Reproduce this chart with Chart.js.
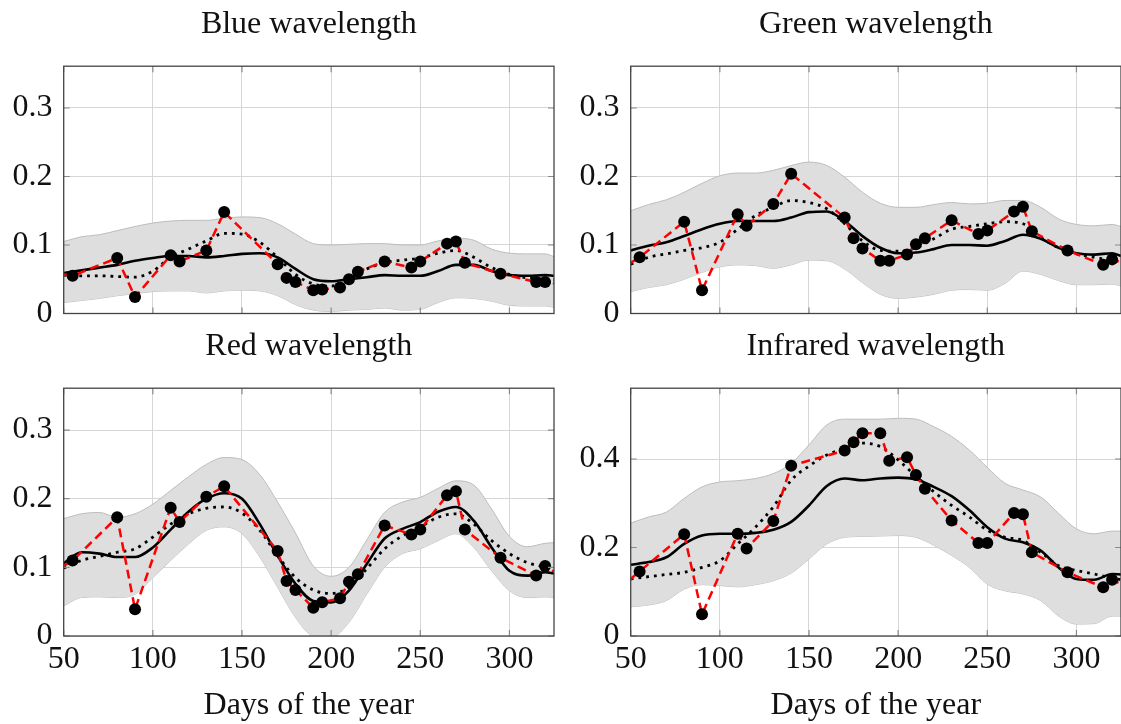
<!DOCTYPE html>
<html>
<head>
<meta charset="utf-8">
<script src="https://cdn.jsdelivr.net/npm/chart.js@4.4.0/dist/chart.umd.min.js"></script>
<style>
	html, body { margin: 0; padding: 0; background: #fff; }
	body { position: relative; width: 1121px; height: 724px; overflow: hidden; }
	canvas { position: absolute; }
</style>
</head>
<body>
<canvas id="chart-blue" width="560" height="346" style="left:0px;top:0px"></canvas>
<canvas id="chart-green" width="560" height="346" style="left:567px;top:0px"></canvas>
<canvas id="chart-red" width="560" height="402" style="left:0px;top:322px"></canvas>
<canvas id="chart-ir" width="560" height="402" style="left:567px;top:322px"></canvas>
<script>

//==========
// Data

// days with an observation (dots + red dashed line)
const obsDays = [55, 80, 90, 110, 115, 130, 140, 170, 175, 180, 190, 195, 205, 210, 215, 230, 245, 250, 265, 270, 275, 295, 315, 320];
// red dashed line also runs out to the plot edges
const edgeDays = [50, 325];
// days where the smooth curves were read
const curveDays = [50, 60, 70, 80, 90, 100, 110, 120, 130, 140, 150, 160, 170, 180, 190, 200, 210, 220, 230, 240, 250, 260, 270, 280, 290, 300, 310, 320, 325];

const blueObs   = [0.055, 0.081, 0.024, 0.085, 0.076, 0.092, 0.148, 0.072, 0.052, 0.046, 0.034, 0.035, 0.038, 0.050, 0.061, 0.076, 0.067, 0.076, 0.102, 0.105, 0.074, 0.058, 0.046, 0.046];
const blueEnds  = [0.057, 0.044];
const blueFit   = [0.059, 0.063, 0.067, 0.071, 0.077, 0.081, 0.084, 0.084, 0.082, 0.084, 0.087, 0.088, 0.082, 0.065, 0.050, 0.047, 0.050, 0.053, 0.056, 0.055, 0.055, 0.062, 0.071, 0.071, 0.062, 0.056, 0.055, 0.056, 0.055];
const blueTrend = [0.056, 0.055, 0.055, 0.054, 0.053, 0.062, 0.082, 0.094, 0.106, 0.117, 0.116, 0.104, 0.082, 0.057, 0.043, 0.040, 0.050, 0.065, 0.074, 0.078, 0.081, 0.088, 0.092, 0.082, 0.067, 0.057, 0.052, 0.050, 0.049];
const blueHigh  = [0.105, 0.112, 0.115, 0.121, 0.127, 0.132, 0.135, 0.136, 0.136, 0.139, 0.141, 0.140, 0.131, 0.116, 0.102, 0.100, 0.101, 0.102, 0.102, 0.100, 0.100, 0.106, 0.110, 0.107, 0.094, 0.088, 0.087, 0.087, 0.083];
const blueLow   = [0.016, 0.019, 0.022, 0.026, 0.029, 0.032, 0.033, 0.033, 0.030, 0.033, 0.034, 0.033, 0.026, 0.013, 0.005, 0.003, 0.005, 0.006, 0.008, 0.005, 0.006, 0.016, 0.023, 0.022, 0.018, 0.012, 0.011, 0.011, 0.009];

const greenObs   = [0.082, 0.134, 0.034, 0.145, 0.128, 0.160, 0.204, 0.140, 0.110, 0.095, 0.077, 0.077, 0.086, 0.101, 0.110, 0.136, 0.116, 0.121, 0.149, 0.156, 0.120, 0.092, 0.071, 0.079];
const greenEnds  = [0.074, 0.075];
const greenFit   = [0.092, 0.099, 0.104, 0.113, 0.123, 0.131, 0.135, 0.135, 0.135, 0.140, 0.148, 0.149, 0.135, 0.113, 0.096, 0.088, 0.089, 0.094, 0.100, 0.100, 0.099, 0.106, 0.115, 0.109, 0.096, 0.088, 0.086, 0.088, 0.084];
const greenTrend = [0.072, 0.082, 0.087, 0.092, 0.096, 0.104, 0.123, 0.143, 0.155, 0.165, 0.162, 0.153, 0.131, 0.106, 0.092, 0.091, 0.096, 0.109, 0.123, 0.127, 0.131, 0.134, 0.131, 0.111, 0.096, 0.087, 0.082, 0.077, 0.074];
const greenHigh  = [0.150, 0.159, 0.166, 0.177, 0.190, 0.201, 0.205, 0.205, 0.209, 0.216, 0.221, 0.216, 0.199, 0.177, 0.161, 0.155, 0.155, 0.159, 0.162, 0.160, 0.161, 0.165, 0.165, 0.155, 0.138, 0.130, 0.128, 0.130, 0.127];
const greenLow   = [0.032, 0.038, 0.042, 0.050, 0.060, 0.068, 0.071, 0.070, 0.066, 0.071, 0.078, 0.077, 0.065, 0.045, 0.028, 0.022, 0.024, 0.028, 0.034, 0.035, 0.034, 0.044, 0.062, 0.057, 0.048, 0.042, 0.042, 0.043, 0.040];

const redObs   = [0.110, 0.173, 0.039, 0.187, 0.166, 0.203, 0.218, 0.124, 0.080, 0.067, 0.041, 0.049, 0.055, 0.079, 0.090, 0.161, 0.148, 0.155, 0.205, 0.211, 0.155, 0.114, 0.088, 0.102];
const redEnds  = [0.102, 0.094];
const redFit   = [0.106, 0.122, 0.120, 0.115, 0.115, 0.129, 0.155, 0.181, 0.200, 0.208, 0.200, 0.163, 0.117, 0.076, 0.051, 0.049, 0.066, 0.105, 0.142, 0.156, 0.166, 0.181, 0.188, 0.168, 0.129, 0.095, 0.088, 0.093, 0.091];
const redTrend = [0.099, 0.110, 0.116, 0.122, 0.127, 0.144, 0.163, 0.178, 0.186, 0.188, 0.179, 0.154, 0.117, 0.085, 0.067, 0.062, 0.071, 0.098, 0.127, 0.146, 0.159, 0.173, 0.178, 0.163, 0.139, 0.120, 0.107, 0.100, 0.096];
const redHigh  = [0.171, 0.178, 0.180, 0.173, 0.178, 0.192, 0.212, 0.232, 0.250, 0.260, 0.257, 0.235, 0.195, 0.150, 0.102, 0.087, 0.100, 0.140, 0.180, 0.195, 0.202, 0.215, 0.226, 0.220, 0.185, 0.145, 0.130, 0.135, 0.136];
const redLow   = [0.044, 0.056, 0.057, 0.056, 0.061, 0.085, 0.110, 0.134, 0.154, 0.159, 0.149, 0.115, 0.071, 0.027, 0.000, -0.002, 0.020, 0.061, 0.100, 0.120, 0.127, 0.139, 0.149, 0.129, 0.095, 0.066, 0.056, 0.057, 0.056];

const irObs   = [0.146, 0.230, 0.049, 0.231, 0.198, 0.260, 0.385, 0.419, 0.438, 0.458, 0.458, 0.396, 0.404, 0.364, 0.333, 0.261, 0.210, 0.210, 0.278, 0.275, 0.189, 0.144, 0.110, 0.127];
const irEnds  = [0.129, 0.117];
const irFit   = [0.161, 0.167, 0.178, 0.208, 0.227, 0.231, 0.231, 0.233, 0.240, 0.258, 0.295, 0.339, 0.356, 0.352, 0.356, 0.358, 0.354, 0.337, 0.316, 0.284, 0.246, 0.220, 0.212, 0.193, 0.155, 0.129, 0.127, 0.140, 0.139];
const irTrend = [0.129, 0.134, 0.139, 0.144, 0.155, 0.170, 0.208, 0.246, 0.292, 0.352, 0.384, 0.409, 0.424, 0.436, 0.428, 0.398, 0.361, 0.326, 0.295, 0.269, 0.239, 0.223, 0.216, 0.189, 0.159, 0.148, 0.140, 0.131, 0.127];
const irHigh  = [0.255, 0.269, 0.280, 0.311, 0.337, 0.348, 0.351, 0.356, 0.367, 0.390, 0.432, 0.477, 0.490, 0.490, 0.490, 0.492, 0.490, 0.473, 0.451, 0.420, 0.381, 0.345, 0.330, 0.314, 0.277, 0.242, 0.231, 0.237, 0.237];
const irLow   = [0.066, 0.070, 0.080, 0.106, 0.116, 0.114, 0.111, 0.116, 0.125, 0.142, 0.174, 0.208, 0.223, 0.225, 0.226, 0.227, 0.223, 0.205, 0.182, 0.155, 0.117, 0.102, 0.095, 0.080, 0.045, 0.027, 0.028, 0.045, 0.045];

//==========
// Helpers

Chart.defaults.font.family = "'Liberation Serif', 'DejaVu Serif', serif";
Chart.defaults.font.size = 32;
Chart.defaults.color = "#111";

function toPoints(days, values){
	return days.map((d, i)=>({x: d, y: values[i]}));
}

// box around the plot + small inner tick marks, pgfplots style
const framePlugin = {
	id: "frame",
	afterDraw(chart){
		const ctx = chart.ctx;
		const a = chart.chartArea;
		const sx = chart.scales.x;
		const sy = chart.scales.y;
		ctx.save();
		ctx.strokeStyle = "#8a8a8a";
		ctx.lineWidth = 1.2;
		ctx.beginPath();
		for(let t of sx.ticks){
			const px = sx.getPixelForValue(t.value);
			ctx.moveTo(px, a.bottom); ctx.lineTo(px, a.bottom - 6);
			ctx.moveTo(px, a.top); ctx.lineTo(px, a.top + 6);
		}
		for(let t of sy.ticks){
			const py = sy.getPixelForValue(t.value);
			ctx.moveTo(a.left, py); ctx.lineTo(a.left + 6, py);
			ctx.moveTo(a.right, py); ctx.lineTo(a.right - 6, py);
		}
		ctx.stroke();
		ctx.strokeStyle = "#444";
		ctx.lineWidth = 1.3;
		ctx.strokeRect(a.left, a.top, a.right - a.left, a.bottom - a.top);
		ctx.restore();
	}
};

//==========
// Chart

function showPanel(id, title, obs, ends, fit, trend, high, low, yMax, yStep, showX){

	const redLine = toPoints([edgeDays[0]].concat(obsDays, [edgeDays[1]]), [ends[0]].concat(obs, [ends[1]]));

	const ctx = document.getElementById(id).getContext("2d");
	new Chart(ctx, {
		type: "line",
		data: {
			datasets: [
				{// observations
					data: toPoints(obsDays, obs),
					showLine: false,
					pointRadius: 6,
					pointBackgroundColor: "#000",
					pointBorderWidth: 0,
					order: 0
				},
				{// red dashed
					data: redLine,
					borderColor: "#f00",
					borderWidth: 2.5,
					borderDash: [9, 5],
					pointRadius: 0,
					tension: 0,
					order: 1
				},
				{// dotted fit
					data: toPoints(curveDays, trend),
					borderColor: "#000",
					borderWidth: 2.8,
					borderDash: [2.8, 5],
					pointRadius: 0,
					cubicInterpolationMode: "monotone",
					order: 2
				},
				{// solid mean
					data: toPoints(curveDays, fit),
					borderColor: "#000",
					borderWidth: 2.6,
					pointRadius: 0,
					cubicInterpolationMode: "monotone",
					order: 3
				},
				{// band upper
					data: toPoints(curveDays, high),
					borderColor: "#bdbdbd",
					borderWidth: 1,
					backgroundColor: "#dedede",
					fill: "+1",
					pointRadius: 0,
					cubicInterpolationMode: "monotone",
					order: 4
				},
				{// band lower
					data: toPoints(curveDays, low),
					borderColor: "#bdbdbd",
					borderWidth: 1,
					pointRadius: 0,
					cubicInterpolationMode: "monotone",
					order: 5
				}
			]
		},
		options: {
			responsive: false,
			animation: false,
			devicePixelRatio: 1,
			layout: {
				padding: {left: 0.5, right: 6, top: 0, bottom: showX ? 0 : 32.5}
			},
			plugins: {
				legend: {display: false},
				tooltip: {enabled: false},
				title: {
					display: true,
					text: title,
					fullSize: false,
					font: {size: 32, weight: "normal"},
					color: "#111",
					padding: {top: 5.2, bottom: 22.6}
				}
			},
			scales: {
				x: {
					type: "linear",
					min: 50,
					max: 325,
					ticks: {
						display: showX,
						stepSize: 50,
						includeBounds: false,
						padding: 4.3,
						maxRotation: 0
					},
					grid: {color: "#d6d6d6", lineWidth: 1, drawTicks: false},
					border: {display: false},
					title: {
						display: showX,
						text: "Days of the year",
						padding: {top: 6, bottom: -0.7}
					},
					afterFit: (s)=>{ s.height = showX ? 88 : 0; }
				},
				y: {
					min: 0,
					max: yMax,
					ticks: {
						stepSize: yStep,
						includeBounds: false,
						padding: 11.3
					},
					grid: {color: "#d6d6d6", lineWidth: 1, drawTicks: false},
					border: {display: false},
					afterFit: (s)=>{ s.width = 63.2; }
				}
			}
		},
		plugins: [framePlugin]
	});
}

showPanel("chart-blue", "Blue wavelength", blueObs, blueEnds, blueFit, blueTrend, blueHigh, blueLow, 0.361, 0.1, false);
showPanel("chart-green", "Green wavelength", greenObs, greenEnds, greenFit, greenTrend, greenHigh, greenLow, 0.361, 0.1, false);
showPanel("chart-red", "Red wavelength", redObs, redEnds, redFit, redTrend, redHigh, redLow, 0.361, 0.1, true);
showPanel("chart-ir", "Infrared wavelength", irObs, irEnds, irFit, irTrend, irHigh, irLow, 0.56, 0.2, true);

</script>
</body>
</html>
